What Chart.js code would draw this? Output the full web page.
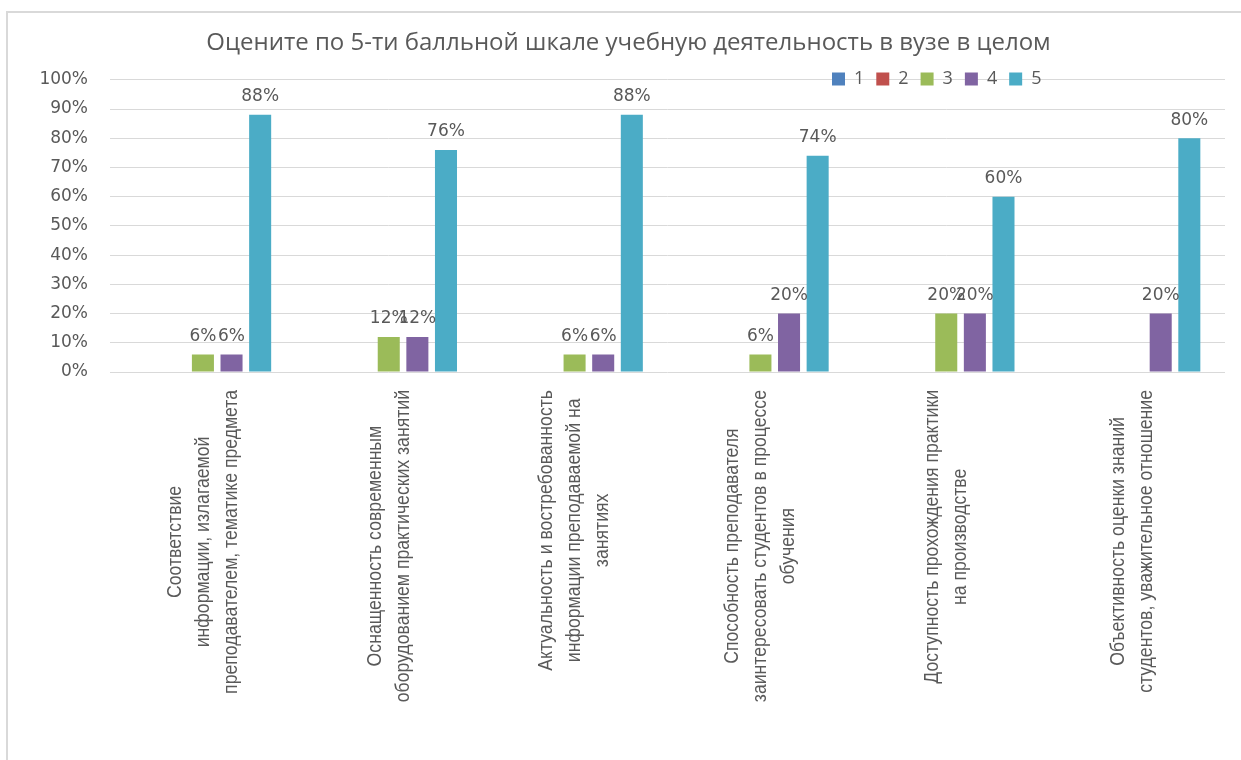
<!DOCTYPE html>
<html>
<head>
<meta charset="utf-8">
<script src="https://cdn.jsdelivr.net/npm/chart.js@4.4.1/dist/chart.umd.min.js"></script>
<style>
  html, body { margin: 0; padding: 0; background: #fff; }
  #wrap { width: 1241px; height: 760px; }
</style>
</head>
<body>
<div id="wrap"><canvas id="ratingGraph"></canvas></div>
<script>
// categories (each one split into lines as in the original)
var categories = [
    ['Соответствие', 'информации, излагаемой', 'преподавателем, тематике предмета'],
    ['Оснащенность современным', 'оборудованием практических занятий'],
    ['Актуальность и востребованность', 'информации преподаваемой на', 'занятиях'],
    ['Способность преподавателя', 'заинтересовать студентов в процессе', 'обучения'],
    ['Доступность прохождения практики', 'на производстве'],
    ['Объективность оценки знаний', 'студентов, уважительное отношение']
];
var seriesNames = ['1', '2', '3', '4', '5'];
var score1 = [0, 0, 0, 0, 0, 0];
var score2 = [0, 0, 0, 0, 0, 0];
var score3 = [6, 12, 6, 6, 20, 0];
var score4 = [6, 12, 6, 20, 20, 20];
var score5 = [88, 76, 88, 74, 60, 80];
var yTicks = [0, 10, 20, 30, 40, 50, 60, 70, 80, 90, 100];

var seriesColors = ['#4F81BD', '#C0504D', '#9BBB59', '#8064A2', '#4BACC6'];
var textGray = '#595959';

var frameLines = {
    id: 'frameLines',
    beforeDraw: function(chart) {
        var ctx = chart.ctx;
        ctx.save();
        ctx.fillStyle = '#fff';
        ctx.fillRect(0, 0, chart.width, chart.height);
        ctx.strokeStyle = '#d9d9d9';
        ctx.lineWidth = 2;
        ctx.strokeRect(7, 12, chart.width + 20, chart.height + 20);
        ctx.restore();
    }
};

// title a bit right of centre, legend up and to the right, as in the original
var boxSpots = {
    id: 'boxSpots',
    afterLayout: function(chart) {
        var tb = chart.titleBlock;
        if (tb) {
            tb.left += 16;
            tb.right += 16;
        }
        var lg = chart.legend;
        if (lg) {
            var w = lg.right - lg.left;
            lg.left = 820;
            lg.right = lg.left + w;
            lg.top = 58;
            lg.bottom = 100;
        }
    }
};

var valueLabels = {
    id: 'valueLabels',
    afterDatasetsDraw: function(chart) {
        var ctx = chart.ctx;
        ctx.save();
        ctx.font = '17px "DejaVu Sans"';
        ctx.fillStyle = textGray;
        ctx.textAlign = 'center';
        ctx.textBaseline = 'middle';
        chart.data.datasets.forEach(function(ds, i) {
            var meta = chart.getDatasetMeta(i);
            meta.data.forEach(function(bar, j) {
                var v = ds.data[j];
                if (v > 0) {
                    ctx.fillText(v + '%', bar.x, bar.y - 18);
                }
            });
        });
        ctx.restore();
    }
};

// rotated, centred multi-line category labels (narrowed like the original font)
var categoryLabels = {
    id: 'categoryLabels',
    afterDraw: function(chart) {
        var ctx = chart.ctx;
        var xs = chart.scales.x;
        var top = chart.chartArea.bottom + 18;
        var lineGap = 28;
        var narrow = 0.84;
        ctx.save();
        ctx.font = '21px "Liberation Sans"';
        ctx.fillStyle = textGray;
        ctx.textAlign = 'center';
        ctx.textBaseline = 'middle';
        categories.forEach(function(lines, i) {
            var cx = xs.getPixelForValue(i);
            var maxW = 0;
            lines.forEach(function(l) { maxW = Math.max(maxW, ctx.measureText(l).width * narrow); });
            ctx.save();
            ctx.translate(cx, top + maxW / 2);
            ctx.rotate(-Math.PI / 2);
            ctx.scale(narrow, 1);
            lines.forEach(function(l, k) {
                ctx.fillText(l, 0, (k - (lines.length - 1) / 2) * lineGap);
            });
            ctx.restore();
        });
        ctx.restore();
    }
};

var allScores = [score1, score2, score3, score4, score5];
var ratingData = {
    labels: categories,
    datasets: seriesNames.map(function(name, i) {
        return {
            label: name,
            data: allScores[i],
            backgroundColor: seriesColors[i],
            borderColor: seriesColors[i],
            borderWidth: 0,
            categoryPercentage: 0.77,
            barPercentage: 0.77
        };
    })
};

var ratingChart = new Chart(document.getElementById('ratingGraph'), {
    type: 'bar',
    data: ratingData,
    options: {
        responsive: true,
        maintainAspectRatio: false,
        animation: false,
        layout: { padding: { left: 0, right: 16, top: 0, bottom: 0 } },
        scales: {
            x: {
                grid: { display: false },
                border: { display: false },
                ticks: { display: false },
                afterFit: function(s) { s.height = 388; }
            },
            y: {
                min: 0,
                max: 100,
                afterBuildTicks: function(s) { s.ticks = yTicks.map(function(v) { return { value: v }; }); },
                grid: { color: '#d9d9d9', lineWidth: 1, drawTicks: false },
                border: { display: false },
                ticks: {
                    padding: 22,
                    color: textGray,
                    font: { family: 'DejaVu Sans', size: 17 },
                    callback: function(value) { return value + '%'; }
                },
                afterFit: function(s) { s.width = 110; }
            }
        },
        plugins: {
            title: {
                display: true,
                text: 'Оцените по 5-ти балльной шкале учебную деятельность в вузе в целом',
                color: textGray,
                font: { family: 'Open Sans', size: 24, weight: 'normal' },
                padding: { top: 29, bottom: 0 }
            },
            legend: {
                position: 'top',
                align: 'start',
                maxHeight: 22,
                labels: {
                    color: textGray,
                    boxWidth: 13,
                    boxHeight: 13,
                    padding: 12,
                    font: { family: 'Open Sans', size: 18 }
                }
            },
            tooltip: { enabled: false }
        }
    },
    plugins: [frameLines, boxSpots, valueLabels, categoryLabels]
});
</script>
</body>
</html>
